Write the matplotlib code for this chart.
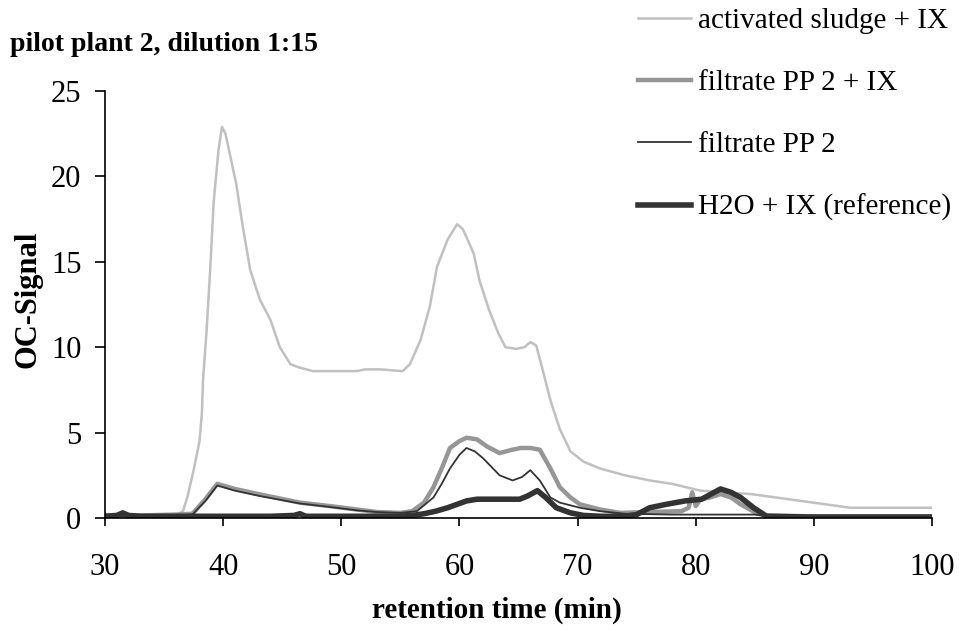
import matplotlib
matplotlib.use('Agg')
import matplotlib.pyplot as plt

plt.rcParams['font.family'] = ['Liberation Serif', 'DejaVu Serif']

# activated sludge + IX
t_sludge = [30, 33, 36, 36.6, 37.0, 37.5, 38.0, 38.2, 38.3, 38.6, 38.9, 39.2, 39.6, 39.9,
            40.2, 40.6, 41.1, 41.7, 42.3, 43.1, 44.0, 44.8, 45.7, 46.5, 47.6, 50, 51.3,
            52, 53.3, 55.2, 55.8, 56.7, 57.5, 58.1, 59.0, 59.8, 60.3, 61.2, 61.7, 62.5,
            63.3, 63.9, 64.8, 65.5, 66.0, 66.5, 67.0, 67.7, 68.5, 69.4, 70.5, 71.9, 74,
            76.1, 78, 80.4, 82.5, 84.7, 86.8, 88.9, 91, 93.1, 95, 97, 100]
v_sludge = [0.1, 0.1, 0.15, 0.4, 1.3, 2.8, 4.5, 6.1, 8.1, 11.0, 14.5, 18.5, 21.5, 22.9,
            22.5, 21.2, 19.6, 16.9, 14.5, 12.8, 11.6, 10.0, 9.0, 8.8, 8.6, 8.6, 8.6,
            8.7, 8.7, 8.6, 9.0, 10.4, 12.4, 14.7, 16.3, 17.2, 16.9, 15.5, 13.9, 12.2,
            10.8, 10.0, 9.9, 10.0, 10.3, 10.1, 8.8, 6.9, 5.2, 3.9, 3.3, 2.9, 2.5,
            2.2, 2.0, 1.6, 1.5, 1.4, 1.2, 1.0, 0.8, 0.6, 0.6, 0.6, 0.6]

# filtrate PP 2 + IX
t_filt_ix = [30, 33, 36, 37.4, 38.5, 39.5, 41, 43, 46.5, 49, 51.3, 53, 55, 56, 57, 57.8,
             58.5, 59.2, 60.0, 60.6, 61.5, 62.3, 63.4, 64.5, 65.2, 66.0, 66.8, 67.7, 68.5,
             69.4, 70.2, 71.9, 73.6, 76, 78.8, 79.4, 79.7, 80.0, 80.4, 81.2, 82.1, 83.0,
             83.8, 85.1, 86, 90, 100]
v_filt_ix = [0.15, 0.15, 0.2, 0.25, 1.1, 2.0, 1.7, 1.4, 0.9, 0.7, 0.5, 0.35, 0.3, 0.4, 0.9,
             1.8, 2.9, 4.1, 4.5, 4.7, 4.6, 4.2, 3.8, 4.0, 4.1, 4.1, 4.0, 2.9, 1.8,
             1.2, 0.8, 0.5, 0.3, 0.35, 0.4, 0.6, 1.5, 0.7, 1.1, 1.2, 1.4, 1.2,
             0.8, 0.3, 0.15, 0.1, 0.1]

# filtrate PP 2
t_filt = [30, 33, 36, 37.4, 38.5, 39.5, 41, 43, 46.5, 49, 51.3, 53, 55, 56.4, 57.8, 58.5,
          59.2, 60.0, 60.6, 61.3, 62.0, 62.7, 63.4, 64.5, 65.3, 66.0, 66.8, 67.7, 68.5,
          70.2, 71.9, 74, 78, 82, 85, 86, 90, 100]
v_filt = [0.1, 0.1, 0.15, 0.2, 1.0, 1.9, 1.6, 1.3, 0.85, 0.65, 0.45, 0.35, 0.3, 0.4, 1.2,
          2.0, 2.9, 3.7, 4.1, 3.9, 3.5, 3.0, 2.5, 2.2, 2.4, 2.8, 2.2, 1.2, 0.9,
          0.6, 0.4, 0.25, 0.2, 0.2, 0.2, 0.1, 0.1, 0.1]

# H2O + IX (reference)
t_h2o = [30, 31, 31.5, 32, 33, 36, 40, 44, 46, 46.5, 47, 50, 55, 56, 57, 58, 59, 60, 60.6,
         61.5, 63.4, 65.1, 65.8, 66.6, 67.3, 68.2, 69.4, 70.5, 72, 74, 75, 76.1, 77.5,
         79.1, 80.5, 81.3, 82.1, 83.0, 83.8, 84.9, 86, 90, 100]
v_h2o = [0.1, 0.15, 0.3, 0.15, 0.1, 0.1, 0.1, 0.1, 0.15, 0.25, 0.1, 0.1, 0.1, 0.15, 0.25,
         0.4, 0.6, 0.85, 1.0, 1.1, 1.1, 1.1, 1.3, 1.6, 1.2, 0.6, 0.3, 0.15, 0.1, 0.1, 0.2,
         0.6, 0.8, 1.0, 1.1, 1.4, 1.7, 1.5, 1.2, 0.6, 0.1, 0.05, 0.05]

labels = ['activated sludge + IX', 'filtrate PP 2 + IX', 'filtrate PP 2', 'H2O + IX (reference)']

W, H = 959, 630
fig = plt.figure(figsize=(W / 100, H / 100), dpi=100)
ax = fig.add_axes([105 / W, 1 - 518 / H, (932 - 105) / W, (518 - 91) / H])

l1, = ax.plot(t_sludge, v_sludge, color='#c0c0c0', lw=1.8)
l2, = ax.plot(t_filt_ix, v_filt_ix, color='#969696', lw=3.2)
l3, = ax.plot(t_filt, v_filt, color='#333333', lw=1.3)
l4, = ax.plot(t_h2o, v_h2o, color='#333333', lw=4.0)

ax.set_xlim(30, 100)
ax.set_ylim(0, 25)
ax.set_xticks(range(30, 101, 10))
ax.set_yticks(range(0, 26, 5))
for s in ['top', 'right']:
    ax.spines[s].set_visible(False)
for s in ['left', 'bottom']:
    ax.spines[s].set_linewidth(1.2)
ax.tick_params(direction='out', width=1.2, labelsize=22)
ax.tick_params(axis='x', length=6, pad=19)
ax.tick_params(axis='y', length=7, pad=10)

fig.text(497 / W, 1 - 618 / H, 'retention time (min)', fontsize=21, fontweight='bold',
         ha='center', va='baseline')
fig.text(28 / W, 1 - 299 / H, 'OC-Signal', fontsize=22, fontweight='bold',
         ha='center', va='center', rotation=90)
fig.text(10 / W, 1 - 51 / H, 'pilot plant 2, dilution 1:15', fontsize=20, fontweight='bold',
         va='baseline')

fig.legend([l1, l2, l3, l4], labels, loc='upper left', bbox_to_anchor=(638 / W, 1 - 8 / H),
           frameon=False, fontsize=21, labelspacing=1.22, handlelength=1.8,
           handletextpad=0.25, borderaxespad=0.0, borderpad=0.0)

fig.savefig('out.png', dpi=100)
